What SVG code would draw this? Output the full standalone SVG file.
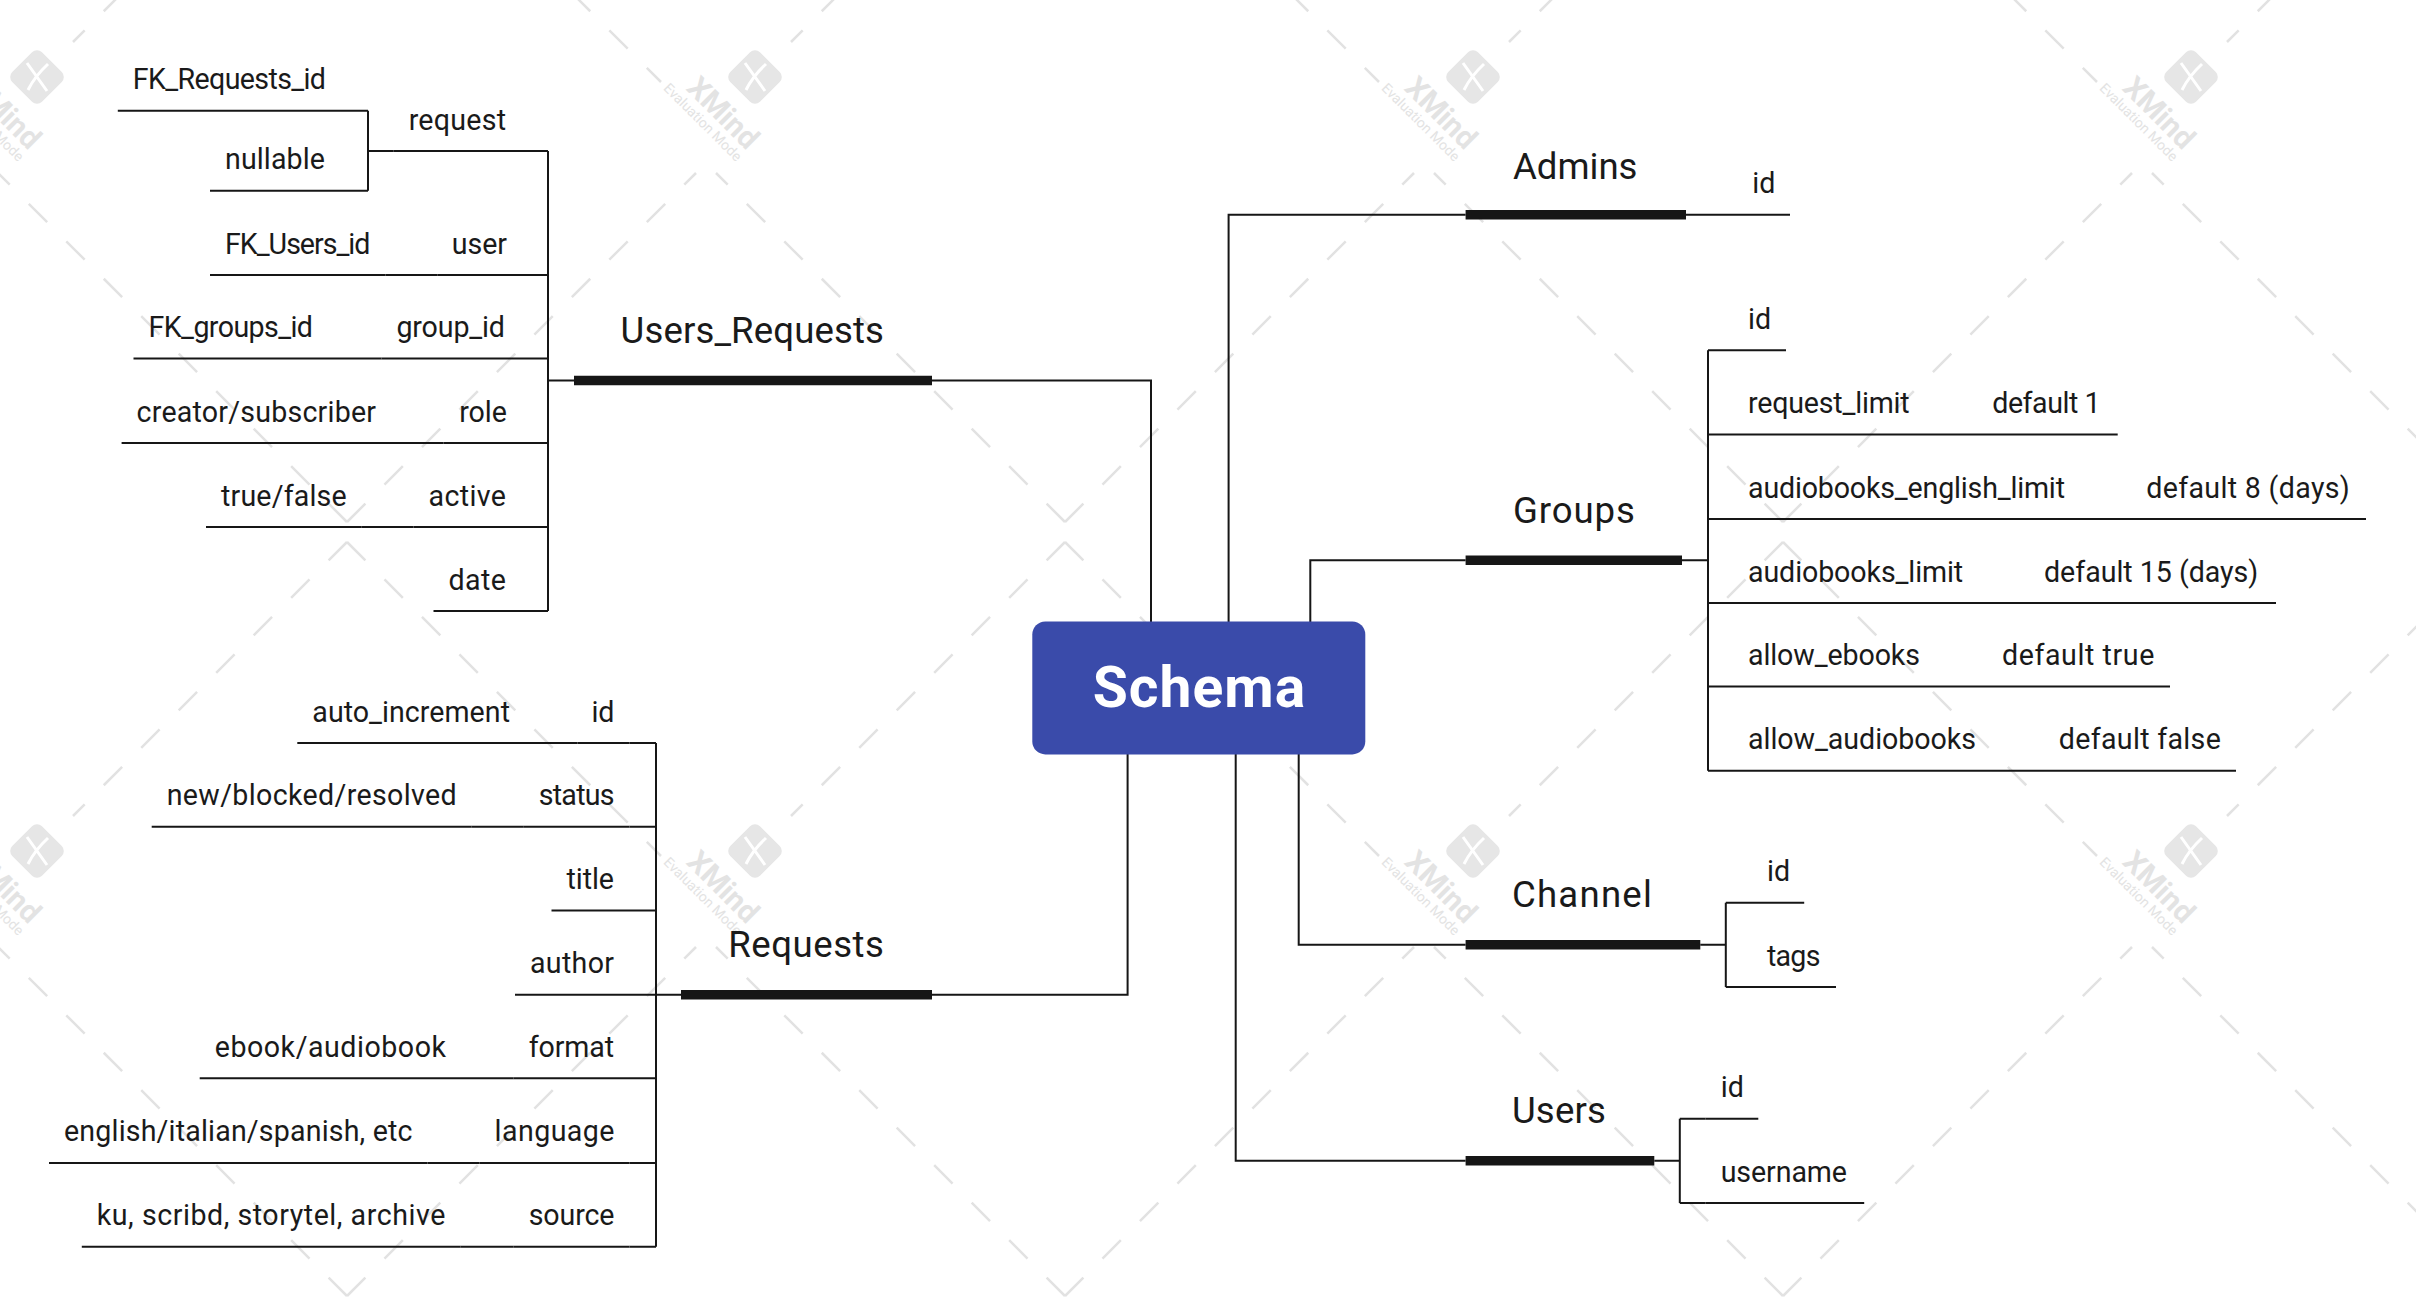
<svg xmlns="http://www.w3.org/2000/svg" width="2416" height="1298" viewBox="0 0 2416 1298">
<style>
.tx{font-family:Roboto,"Liberation Sans",Arial,sans-serif;font-size:28.6px;fill:#1a1a1a}
.mt{font-family:Roboto,"Liberation Sans",Arial,sans-serif;font-size:36.6px;fill:#1a1a1a}
.ct{font-family:Roboto,"Liberation Sans",Arial,sans-serif;font-size:57px;font-weight:700;fill:#ffffff}
.e{text-anchor:end}
.ul,.cn{stroke:#161616;stroke-width:2;fill:none}
.bar{stroke:#161616;stroke-width:9.5}
.wl{stroke:#e2e2e2;stroke-width:2.5;fill:none;stroke-dasharray:26 27}
.wt{font-family:Roboto,"Liberation Sans",Arial,sans-serif;fill:#e3e3e3;text-anchor:middle}
</style>
<defs>
<g id="wmtile">
<path class="wl" d="M0 10 L314 324"/>
<path class="wl" d="M718 10 L444 284"/>
<path class="wl" d="M0 764 L349 415"/>
<path class="wl" d="M718 764 L369 415"/>
<rect x="-21" y="-21" width="42" height="42" rx="7" fill="#e6e6e6" transform="translate(408 319) rotate(45)"/>
<path d="M398 305 Q408 319 418 333 M419 306 Q406 318 399 332" stroke="#ffffff" stroke-width="3" fill="none"/>
<text class="wt" x="0" y="10" font-size="30" font-weight="700" transform="translate(376 355) rotate(45)">XMind</text>
<text class="wt" x="0" y="5" font-size="14" transform="translate(356 364) rotate(45)">Evaluation Mode</text>
</g>
</defs>
<rect width="2416" height="1298" fill="#ffffff"/>
<g id="watermark">
<use href="#wmtile" x="-371" y="-242"/>
<use href="#wmtile" x="347" y="-242"/>
<use href="#wmtile" x="1065" y="-242"/>
<use href="#wmtile" x="1783" y="-242"/>
<use href="#wmtile" x="-371" y="532"/>
<use href="#wmtile" x="347" y="532"/>
<use href="#wmtile" x="1065" y="532"/>
<use href="#wmtile" x="1783" y="532"/>
</g>

<g id="connectors">
<path class="cn" d="M1151 622 V380.6 H932"/>
<path class="cn" d="M1127.6 754 V994.7 H932"/>
<path class="cn" d="M1228.6 622 V214.7 H1465.6"/>
<path class="cn" d="M1310.3 622 V560.3 H1465.6"/>
<path class="cn" d="M1298.7 754 V944.7 H1465.6"/>
<path class="cn" d="M1235.7 754 V1160.7 H1465.6"/>
<path class="cn" d="M574 380.6 H548 M548 151 V611 M548 151 H521 M548 275 H522 M548 358.4 H520 M548 443 H522 M548 527 H521 M548 611 H521"/>
<path class="cn" d="M393.7 151 H368 M368 110.8 V190.8 M368 110.8 H341 M368 190.8 H340"/>
<path class="cn" d="M437.7 275 H385.4 M381.4 358.4 H328 M443.4 443 H391 M413.6 527 H361.7"/>
<path class="cn" d="M681 994.7 H656 M656 743 V1246.7 M656 743 H629.5 M656 826.8 H629.5 M656 910.6 H629 M656 994.7 H629 M656 1078.3 H629 M656 1162.9 H629.5 M656 1246.7 H629.5"/>
<path class="cn" d="M577.6 743 H525 M523.8 826.8 H471.7 M513.7 1078.3 H461 M479.6 1162.9 H427.5 M513.7 1246.7 H460.3"/>
<path class="cn" d="M1686 214.7 H1737"/>
<path class="cn" d="M1682 560.3 H1708 M1708 350.3 V770.8 M1708 350.3 H1733 M1708 434.6 H1733 M1708 519 H1733 M1708 603 H1733 M1708 686.4 H1733 M1708 770.8 H1733"/>
<path class="cn" d="M1925 434.6 H1977 M2081 519 H2131 M1979 603 H2029 M1936 686.4 H1987 M1992 770.8 H2044"/>
<path class="cn" d="M1700.3 944.7 H1725.8 M1725.8 902.7 V987 M1725.8 902.7 H1752 M1725.8 987 H1752"/>
<path class="cn" d="M1654.3 1160.7 H1679.8 M1679.8 1118.7 V1203 M1679.8 1118.7 H1705.7 M1679.8 1203 H1705.7"/>
</g>

<g id="schema">
<rect x="1032.3" y="621.4" width="333" height="133" rx="13" fill="#3a4baa"/>
<text class="ct" x="1199" y="707" text-anchor="middle" textLength="212.5">Schema</text>
</g>

<g id="users_requests">
<line class="bar" x1="574" y1="380.6" x2="932" y2="380.6"/>
<text class="mt e" x="884" y="343.2" textLength="263.4">Users_Requests</text>
</g>
<g id="ur_request"><line class="ul" x1="393.7" y1="151" x2="521" y2="151"/><text class="tx e" x="506" y="129.5" textLength="97.3">request</text></g>
<g id="ur_fk_requests_id"><line class="ul" x1="117.8" y1="110.8" x2="341" y2="110.8"/><text class="tx" x="132.8" y="89.3" textLength="193.2">FK_Requests_id</text></g>
<g id="ur_nullable"><line class="ul" x1="210" y1="190.8" x2="340" y2="190.8"/><text class="tx" x="225" y="169.3" textLength="100">nullable</text></g>
<g id="ur_user"><line class="ul" x1="437.7" y1="275" x2="522" y2="275"/><text class="tx e" x="507" y="253.5">user</text></g>
<g id="ur_fk_users_id"><line class="ul" x1="210" y1="275" x2="385.4" y2="275"/><text class="tx" x="225" y="253.5" textLength="145.4">FK_Users_id</text></g>
<g id="ur_group_id"><line class="ul" x1="381.4" y1="358.4" x2="520" y2="358.4"/><text class="tx e" x="505" y="336.9" textLength="108.6">group_id</text></g>
<g id="ur_fk_groups_id"><line class="ul" x1="133.5" y1="358.4" x2="328" y2="358.4"/><text class="tx" x="148.5" y="336.9" textLength="164.5">FK_groups_id</text></g>
<g id="ur_role"><line class="ul" x1="443.4" y1="443" x2="522" y2="443"/><text class="tx e" x="507" y="421.5">role</text></g>
<g id="ur_creator"><line class="ul" x1="121.6" y1="443" x2="391" y2="443"/><text class="tx" x="136.6" y="421.5" textLength="239.4">creator/subscriber</text></g>
<g id="ur_active"><line class="ul" x1="413.6" y1="527" x2="521" y2="527"/><text class="tx e" x="506" y="505.5" textLength="77.4">active</text></g>
<g id="ur_truefalse"><line class="ul" x1="206" y1="527" x2="361.7" y2="527"/><text class="tx" x="221" y="505.5" textLength="125.7">true/false</text></g>
<g id="ur_date"><line class="ul" x1="433.5" y1="611" x2="521" y2="611"/><text class="tx e" x="506" y="589.5" textLength="57.5">date</text></g>

<g id="requests">
<line class="bar" x1="681" y1="994.7" x2="932" y2="994.7"/>
<text class="mt e" x="884" y="956.7" textLength="155.7">Requests</text>
</g>
<g id="rq_id"><line class="ul" x1="577.6" y1="743" x2="629.5" y2="743"/><text class="tx e" x="614.5" y="721.5">id</text></g>
<g id="rq_auto_increment"><line class="ul" x1="297.3" y1="743" x2="525" y2="743"/><text class="tx" x="312.3" y="721.5" textLength="197.7">auto_increment</text></g>
<g id="rq_status"><line class="ul" x1="523.8" y1="826.8" x2="629.5" y2="826.8"/><text class="tx e" x="614.5" y="805.3" textLength="75.7">status</text></g>
<g id="rq_status_values"><line class="ul" x1="151.7" y1="826.8" x2="471.7" y2="826.8"/><text class="tx" x="166.7" y="805.3" textLength="290">new/blocked/resolved</text></g>
<g id="rq_title"><line class="ul" x1="551.5" y1="910.6" x2="629" y2="910.6"/><text class="tx e" x="614" y="889.1" textLength="47.5">title</text></g>
<g id="rq_author"><line class="ul" x1="515" y1="994.7" x2="629" y2="994.7"/><text class="tx e" x="614" y="973.2" textLength="84">author</text></g>
<g id="rq_format"><line class="ul" x1="513.7" y1="1078.3" x2="629" y2="1078.3"/><text class="tx e" x="614" y="1056.8" textLength="85.3">format</text></g>
<g id="rq_format_values"><line class="ul" x1="199.7" y1="1078.3" x2="461" y2="1078.3"/><text class="tx" x="214.7" y="1056.8" textLength="231.3">ebook/audiobook</text></g>
<g id="rq_language"><line class="ul" x1="479.6" y1="1162.9" x2="629.5" y2="1162.9"/><text class="tx e" x="614.5" y="1141.4" textLength="119.9">language</text></g>
<g id="rq_language_values"><line class="ul" x1="49" y1="1162.9" x2="427.5" y2="1162.9"/><text class="tx" x="64" y="1141.4" textLength="348.5">english/italian/spanish, etc</text></g>
<g id="rq_source"><line class="ul" x1="513.7" y1="1246.7" x2="629.5" y2="1246.7"/><text class="tx e" x="614.5" y="1225.2" textLength="85.8">source</text></g>
<g id="rq_source_values"><line class="ul" x1="81.8" y1="1246.7" x2="460.3" y2="1246.7"/><text class="tx" x="96.8" y="1225.2" textLength="348.5">ku, scribd, storytel, archive</text></g>

<g id="admins">
<line class="bar" x1="1465.6" y1="214.7" x2="1686" y2="214.7"/>
<text class="mt" x="1513" y="178.6" textLength="124.5">Admins</text>
</g>
<g id="ad_id"><line class="ul" x1="1737" y1="214.7" x2="1790" y2="214.7"/><text class="tx" x="1752.3" y="193.2">id</text></g>

<g id="groups">
<line class="bar" x1="1465.6" y1="560.3" x2="1682" y2="560.3"/>
<text class="mt" x="1513" y="523.3" textLength="121.9">Groups</text>
</g>
<g id="gr_id"><line class="ul" x1="1733" y1="350.3" x2="1786" y2="350.3"/><text class="tx" x="1748" y="328.8">id</text></g>
<g id="gr_request_limit"><line class="ul" x1="1733" y1="434.6" x2="1925" y2="434.6"/><text class="tx" x="1748" y="413.1" textLength="161.6">request_limit</text></g>
<g id="gr_request_limit_default"><line class="ul" x1="1977" y1="434.6" x2="2117.7" y2="434.6"/><text class="tx" x="1992.2" y="413.1" textLength="108.5">default 1</text></g>
<g id="gr_ab_english"><line class="ul" x1="1733" y1="519" x2="2081" y2="519"/><text class="tx" x="1748" y="497.5" textLength="317">audiobooks_english_limit</text></g>
<g id="gr_ab_english_default"><line class="ul" x1="2131" y1="519" x2="2366" y2="519"/><text class="tx" x="2146.2" y="497.5" textLength="203.6">default 8 (days)</text></g>
<g id="gr_ab_limit"><line class="ul" x1="1733" y1="603" x2="1979" y2="603"/><text class="tx" x="1748" y="581.5" textLength="215.2">audiobooks_limit</text></g>
<g id="gr_ab_limit_default"><line class="ul" x1="2029" y1="603" x2="2276" y2="603"/><text class="tx" x="2044" y="581.5" textLength="214.3">default 15 (days)</text></g>
<g id="gr_allow_ebooks"><line class="ul" x1="1733" y1="686.4" x2="1936" y2="686.4"/><text class="tx" x="1748" y="664.9" textLength="172">allow_ebooks</text></g>
<g id="gr_allow_ebooks_default"><line class="ul" x1="1987" y1="686.4" x2="2170" y2="686.4"/><text class="tx" x="2002" y="664.9" textLength="152.3">default true</text></g>
<g id="gr_allow_audiobooks"><line class="ul" x1="1733" y1="770.8" x2="1992" y2="770.8"/><text class="tx" x="1748" y="749.3" textLength="228">allow_audiobooks</text></g>
<g id="gr_allow_audiobooks_default"><line class="ul" x1="2044" y1="770.8" x2="2236" y2="770.8"/><text class="tx" x="2058.8" y="749.3" textLength="162">default false</text></g>

<g id="channel">
<line class="bar" x1="1465.6" y1="944.7" x2="1700.3" y2="944.7"/>
<text class="mt" x="1512" y="907.3" textLength="139.8">Channel</text>
</g>
<g id="ch_id"><line class="ul" x1="1752" y1="902.7" x2="1804.2" y2="902.7"/><text class="tx" x="1767" y="881.2">id</text></g>
<g id="ch_tags"><line class="ul" x1="1752" y1="987" x2="1836" y2="987"/><text class="tx" x="1767" y="965.5" textLength="53.4">tags</text></g>

<g id="users">
<line class="bar" x1="1465.6" y1="1160.7" x2="1654.3" y2="1160.7"/>
<text class="mt" x="1512" y="1123.3" textLength="93.9">Users</text>
</g>
<g id="us_id"><line class="ul" x1="1705.7" y1="1118.7" x2="1758.3" y2="1118.7"/><text class="tx" x="1720.7" y="1097.2">id</text></g>
<g id="us_username"><line class="ul" x1="1705.7" y1="1203" x2="1864.2" y2="1203"/><text class="tx" x="1720.7" y="1181.5" textLength="126.3">username</text></g>
</svg>
